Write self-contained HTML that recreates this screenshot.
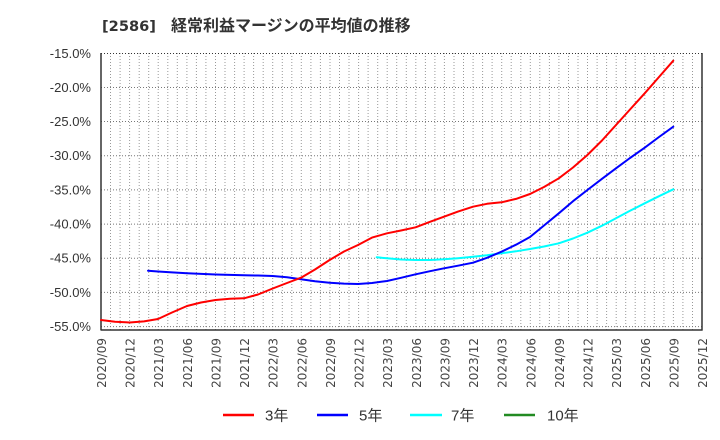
<!DOCTYPE html>
<html><head><meta charset="utf-8"><style>
html,body{margin:0;padding:0;background:#fff;}
svg{display:block;font-family:"Liberation Sans","Noto Sans CJK JP",sans-serif;}
</style></head><body>
<svg width="720" height="440" viewBox="0 0 720 440" xmlns="http://www.w3.org/2000/svg">
<rect width="720" height="440" fill="#fff"/>
<text y="31" font-size="16" font-weight="bold" fill="#333"><tspan x="102" font-family="'DejaVu Sans',sans-serif" font-size="14.6">[2586]</tspan><tspan x="171" font-family="'Noto Sans CJK JP',sans-serif">経常利益マージンの平均値の推移</tspan></text>
<g stroke="#999" stroke-width="1" stroke-dasharray="1,2">
<line x1="110.5" y1="53" x2="110.5" y2="330"/><line x1="120.1" y1="53" x2="120.1" y2="330"/><line x1="129.6" y1="53" x2="129.6" y2="330"/><line x1="139.2" y1="53" x2="139.2" y2="330"/><line x1="148.7" y1="53" x2="148.7" y2="330"/><line x1="158.2" y1="53" x2="158.2" y2="330"/><line x1="167.8" y1="53" x2="167.8" y2="330"/><line x1="177.3" y1="53" x2="177.3" y2="330"/><line x1="186.9" y1="53" x2="186.9" y2="330"/><line x1="196.4" y1="53" x2="196.4" y2="330"/><line x1="205.9" y1="53" x2="205.9" y2="330"/><line x1="215.5" y1="53" x2="215.5" y2="330"/><line x1="225.0" y1="53" x2="225.0" y2="330"/><line x1="234.6" y1="53" x2="234.6" y2="330"/><line x1="244.1" y1="53" x2="244.1" y2="330"/><line x1="253.6" y1="53" x2="253.6" y2="330"/><line x1="263.2" y1="53" x2="263.2" y2="330"/><line x1="272.7" y1="53" x2="272.7" y2="330"/><line x1="282.3" y1="53" x2="282.3" y2="330"/><line x1="291.8" y1="53" x2="291.8" y2="330"/><line x1="301.3" y1="53" x2="301.3" y2="330"/><line x1="310.9" y1="53" x2="310.9" y2="330"/><line x1="320.4" y1="53" x2="320.4" y2="330"/><line x1="330.0" y1="53" x2="330.0" y2="330"/><line x1="339.5" y1="53" x2="339.5" y2="330"/><line x1="349.0" y1="53" x2="349.0" y2="330"/><line x1="358.6" y1="53" x2="358.6" y2="330"/><line x1="368.1" y1="53" x2="368.1" y2="330"/><line x1="377.7" y1="53" x2="377.7" y2="330"/><line x1="387.2" y1="53" x2="387.2" y2="330"/><line x1="396.7" y1="53" x2="396.7" y2="330"/><line x1="406.3" y1="53" x2="406.3" y2="330"/><line x1="415.8" y1="53" x2="415.8" y2="330"/><line x1="425.4" y1="53" x2="425.4" y2="330"/><line x1="434.9" y1="53" x2="434.9" y2="330"/><line x1="444.4" y1="53" x2="444.4" y2="330"/><line x1="454.0" y1="53" x2="454.0" y2="330"/><line x1="463.5" y1="53" x2="463.5" y2="330"/><line x1="473.1" y1="53" x2="473.1" y2="330"/><line x1="482.6" y1="53" x2="482.6" y2="330"/><line x1="492.1" y1="53" x2="492.1" y2="330"/><line x1="501.7" y1="53" x2="501.7" y2="330"/><line x1="511.2" y1="53" x2="511.2" y2="330"/><line x1="520.8" y1="53" x2="520.8" y2="330"/><line x1="530.3" y1="53" x2="530.3" y2="330"/><line x1="539.8" y1="53" x2="539.8" y2="330"/><line x1="549.4" y1="53" x2="549.4" y2="330"/><line x1="558.9" y1="53" x2="558.9" y2="330"/><line x1="568.5" y1="53" x2="568.5" y2="330"/><line x1="578.0" y1="53" x2="578.0" y2="330"/><line x1="587.5" y1="53" x2="587.5" y2="330"/><line x1="597.1" y1="53" x2="597.1" y2="330"/><line x1="606.6" y1="53" x2="606.6" y2="330"/><line x1="616.2" y1="53" x2="616.2" y2="330"/><line x1="625.7" y1="53" x2="625.7" y2="330"/><line x1="635.2" y1="53" x2="635.2" y2="330"/><line x1="644.8" y1="53" x2="644.8" y2="330"/><line x1="654.3" y1="53" x2="654.3" y2="330"/><line x1="663.9" y1="53" x2="663.9" y2="330"/><line x1="673.4" y1="53" x2="673.4" y2="330"/><line x1="682.9" y1="53" x2="682.9" y2="330"/><line x1="692.5" y1="53" x2="692.5" y2="330"/>
</g>
<g stroke="#777" stroke-width="1" stroke-dasharray="1,2">
<line x1="101" y1="53.5" x2="702" y2="53.5" stroke="#333"/>
<line x1="101" y1="87.5" x2="702" y2="87.5"/>
<line x1="101" y1="121.5" x2="702" y2="121.5"/>
<line x1="101" y1="155.7" x2="702" y2="155.7"/>
<line x1="101" y1="189.9" x2="702" y2="189.9"/>
<line x1="101" y1="224.1" x2="702" y2="224.1"/>
<line x1="101" y1="258.2" x2="702" y2="258.2"/>
<line x1="101" y1="292.4" x2="702" y2="292.4"/>
<line x1="101" y1="326.6" x2="702" y2="326.6"/>
</g>
<g stroke="#333" stroke-width="1.5" fill="none">
<line x1="101" y1="53" x2="101" y2="330.5"/>
<line x1="101" y1="330" x2="702.5" y2="330"/>
<line x1="702" y1="53" x2="702" y2="330.5"/>
</g>
<g font-size="13" fill="#333" text-anchor="end">
<text x="91" y="58">-15.0%</text>
<text x="91" y="92">-20.0%</text>
<text x="91" y="126">-25.0%</text>
<text x="91" y="160">-30.0%</text>
<text x="91" y="194.5">-35.0%</text>
<text x="91" y="228.5">-40.0%</text>
<text x="91" y="262.5">-45.0%</text>
<text x="91" y="297">-50.0%</text>
<text x="91" y="331">-55.0%</text>
</g>
<g font-size="12" fill="#444" text-anchor="end" font-family="'DejaVu Sans',sans-serif">
<text transform="translate(106,338) rotate(-90)">2020/09</text>
<text transform="translate(134.6,338) rotate(-90)">2020/12</text>
<text transform="translate(163.2,338) rotate(-90)">2021/03</text>
<text transform="translate(191.9,338) rotate(-90)">2021/06</text>
<text transform="translate(220.5,338) rotate(-90)">2021/09</text>
<text transform="translate(249.1,338) rotate(-90)">2021/12</text>
<text transform="translate(277.7,338) rotate(-90)">2022/03</text>
<text transform="translate(306.3,338) rotate(-90)">2022/06</text>
<text transform="translate(335.0,338) rotate(-90)">2022/09</text>
<text transform="translate(363.6,338) rotate(-90)">2022/12</text>
<text transform="translate(392.2,338) rotate(-90)">2023/03</text>
<text transform="translate(420.8,338) rotate(-90)">2023/06</text>
<text transform="translate(449.4,338) rotate(-90)">2023/09</text>
<text transform="translate(478.0,338) rotate(-90)">2023/12</text>
<text transform="translate(506.7,338) rotate(-90)">2024/03</text>
<text transform="translate(535.3,338) rotate(-90)">2024/06</text>
<text transform="translate(563.9,338) rotate(-90)">2024/09</text>
<text transform="translate(592.5,338) rotate(-90)">2024/12</text>
<text transform="translate(621.1,338) rotate(-90)">2025/03</text>
<text transform="translate(649.8,338) rotate(-90)">2025/06</text>
<text transform="translate(678.4,338) rotate(-90)">2025/09</text>
<text transform="translate(707,338) rotate(-90)">2025/12</text>
</g>
<g fill="none" stroke-width="2" stroke-linejoin="round" stroke-linecap="round">
<polyline stroke="#00ffff" points="376.7,257.3 387,258.3 401,259.5 415.6,260 430,260 444,259.3 458,258.2 473,256.7 487,255.2 501.5,253.3 516,251.3 530,249 544,246.5 558.8,243.3 573,238.5 587.4,232.7 602,225.7 616,218.3 630,210.8 644.7,203.3 659,196.2 673.3,189.3"/>
<polyline stroke="#0000ff" points="148,270.7 158,271.5 172,272.4 187,273.3 215.5,274.5 244,275.3 258,275.5 272.7,276 287,277.3 301,279.3 315,281.2 329.6,282.7 344,283.6 358,284 372,283 387,281 401,277.8 415.6,274.3 430,271.2 444,268.3 458,265.7 473,262.7 487,257.8 501.5,251.7 516,244.7 530,237 544,225.5 558.8,213.3 573,201.2 587.4,190 602,178.8 616,168.3 630,158 644.7,147.7 659,137 673.3,126.7"/>
<polyline stroke="#ff0000" points="101,320 115,321.8 129.6,322.5 144,321.4 158,319 172,312.5 187,306 201,302.5 215.5,300 230,298.8 244,298.3 258,294.5 272.7,288.5 287,283 301,277.7 315,269.5 329.6,260 344,251.5 358,245 372,237.6 387,233.3 401,230.5 415.6,227.3 430,221.8 444,216.7 458,211.6 473,206.7 487,203.8 501.5,202.3 516,198.9 530,194 544,187 558.8,178.3 573,167.5 587.4,155 602,140.5 616,125 630,109.5 644.7,93.3 659,77 673.3,60.7"/>
</g>
<g stroke-width="2.5">
<line x1="223" y1="415" x2="254" y2="415" stroke="#ff0000"/>
<line x1="317" y1="415" x2="348" y2="415" stroke="#0000ff"/>
<line x1="410" y1="415" x2="442" y2="415" stroke="#00ffff"/>
<line x1="504" y1="415" x2="535" y2="415" stroke="#228b22"/>
</g>
<g font-size="15" fill="#333" font-family="'Liberation Sans','Noto Sans CJK JP',sans-serif">
<text x="265" y="420.5">3年</text>
<text x="359" y="420.5">5年</text>
<text x="451" y="420.5">7年</text>
<text x="547" y="420.5">10年</text>
</g>
</svg>
</body></html>
